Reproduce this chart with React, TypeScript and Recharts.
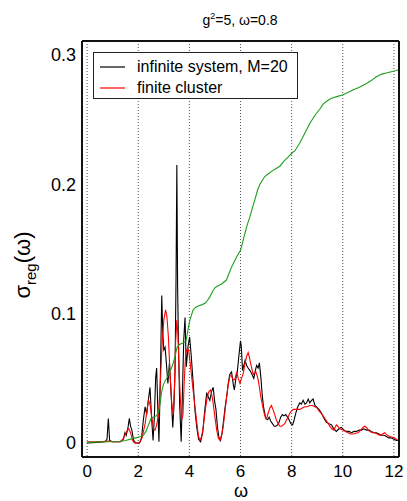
import React from 'react';
import { LineChart, Line, XAxis, YAxis, CartesianGrid, Legend, Label } from 'recharts';

// ---- data ----
const infiniteOmega = [
  0, 0.4, 0.7, 0.78, 0.83, 0.88, 1.0, 1.3, 1.42, 1.48, 1.53, 1.6, 1.65, 1.7, 1.75, 1.82, 1.9, 2.05, 2.13, 2.2,
  2.27, 2.33, 2.4, 2.46, 2.52, 2.58, 2.63, 2.68, 2.72, 2.76, 2.81, 2.86, 2.92, 2.96, 3.0, 3.05, 3.1, 3.16, 3.22, 3.28,
  3.35, 3.4, 3.44, 3.48, 3.51, 3.54, 3.57, 3.62, 3.68, 3.73, 3.78, 3.83, 3.88, 3.95, 4.01, 4.07, 4.14, 4.22, 4.29, 4.36,
  4.44, 4.52, 4.6, 4.68, 4.75, 4.8, 4.87, 4.93, 4.99, 5.04, 5.1, 5.16, 5.22, 5.28, 5.33, 5.4, 5.46, 5.52, 5.58, 5.65,
  5.72, 5.76, 5.82, 5.88, 5.94, 6.0, 6.03, 6.08, 6.13, 6.18, 6.24, 6.3, 6.37, 6.43, 6.52, 6.58, 6.63, 6.69, 6.74, 6.8,
  6.85, 6.9, 6.99, 7.06, 7.12, 7.18, 7.25, 7.32, 7.38, 7.45, 7.51, 7.57, 7.64, 7.7, 7.77, 7.84, 7.9, 7.97, 8.04, 8.1,
  8.16, 8.24, 8.32, 8.38, 8.45, 8.52, 8.58, 8.65, 8.71, 8.78, 8.84, 8.91, 8.97, 9.07, 9.17, 9.27, 9.36, 9.46, 9.56, 9.65,
  9.75, 9.85, 9.95, 10.04, 10.14, 10.24, 10.34, 10.44, 10.54, 10.64, 10.73, 10.83, 10.93, 11.03, 11.12, 11.22, 11.32, 11.42, 11.51, 11.61,
  11.71, 11.8, 11.9, 12.0, 12.1, 12.18,
];
const infiniteSigma = [
  0, 0.0005, 0.001, 0.003, 0.019, 0.002, 0.001, 0.001, 0.003, 0.008, 0.006, 0.012, 0.019, 0.013, 0.01, 0.002, 0.0, 0.0, 0.004, 0.018,
  0.028, 0.022, 0.034, 0.043, 0.02, 0.002, 0.02, 0.05, 0.058, 0.03, 0.001, 0.045, 0.114, 0.085, 0.072, 0.074, 0.062, 0.046, 0.062, 0.04,
  0.012, 0.03, 0.056, 0.13, 0.215, 0.12, 0.082, 0.03, 0.001, 0.04, 0.08, 0.097, 0.059, 0.075, 0.082, 0.068, 0.049, 0.025, 0.012, 0.003,
  0.001, 0.008, 0.025, 0.039, 0.035, 0.033, 0.04, 0.043, 0.032, 0.026, 0.012, 0.004, 0.002, 0.008, 0.016, 0.028, 0.036, 0.046, 0.053, 0.055,
  0.045, 0.041, 0.05, 0.056, 0.068, 0.079, 0.075, 0.056, 0.06, 0.064, 0.06, 0.058, 0.056, 0.054, 0.05, 0.056, 0.06, 0.058, 0.062, 0.05,
  0.037, 0.028, 0.019, 0.018, 0.02, 0.017, 0.015, 0.013, 0.013, 0.014, 0.016, 0.02, 0.022, 0.021, 0.022, 0.02, 0.018, 0.015, 0.014, 0.018,
  0.023, 0.028, 0.031, 0.03, 0.033, 0.03, 0.031, 0.034, 0.031, 0.033, 0.034, 0.029, 0.028, 0.026, 0.023, 0.019, 0.016, 0.015, 0.014, 0.011,
  0.009, 0.011, 0.012, 0.01, 0.009, 0.009, 0.008, 0.009, 0.009, 0.01, 0.01, 0.011, 0.01, 0.01, 0.009, 0.008, 0.008, 0.007, 0.006, 0.006,
  0.005, 0.004, 0.004, 0.003, 0.002, 0.002,
];

const finiteOmega = [
  0, 0.5, 0.8, 1.0, 1.3, 1.4, 1.5, 1.58, 1.63, 1.7, 1.78, 1.85, 2.05, 2.15, 2.27, 2.34, 2.4, 2.46, 2.53, 2.6,
  2.66, 2.72, 2.79, 2.86, 2.93, 3.0, 3.07, 3.12, 3.18, 3.24, 3.31, 3.37, 3.42, 3.46, 3.51, 3.55, 3.6, 3.65, 3.7, 3.75,
  3.8, 3.86, 3.92, 3.97, 4.03, 4.09, 4.15, 4.22, 4.29, 4.35, 4.41, 4.48, 4.54, 4.62, 4.7, 4.77, 4.83, 4.88, 4.93, 5.0,
  5.07, 5.13, 5.2, 5.26, 5.32, 5.39, 5.46, 5.52, 5.59, 5.65, 5.71, 5.78, 5.85, 5.91, 5.98, 6.04, 6.11, 6.18, 6.24, 6.3,
  6.35, 6.39, 6.45, 6.5, 6.55, 6.6, 6.65, 6.69, 6.74, 6.79, 6.84, 6.89, 6.94, 6.99, 7.04, 7.08, 7.15, 7.21, 7.27, 7.34,
  7.4, 7.47, 7.54, 7.61, 7.67, 7.73, 7.8, 7.86, 7.93, 8.0, 8.07, 8.13, 8.22, 8.32, 8.42, 8.52, 8.61, 8.71, 8.81, 8.91,
  9.0, 9.1, 9.2, 9.3, 9.4, 9.49, 9.57, 9.65, 9.7, 9.75, 9.81, 9.88, 10.01, 10.11, 10.21, 10.3, 10.4, 10.5, 10.6, 10.7,
  10.79, 10.86, 10.93, 11.0, 11.05, 11.15, 11.25, 11.35, 11.45, 11.55, 11.64, 11.74, 11.84, 11.94, 12.03, 12.1, 12.18,
];
const finiteSigma = [
  0.001, 0.001, 0.0015, 0.001, 0.001, 0.003, 0.007, 0.01, 0.011, 0.008, 0.002, 0.0, 0.0, 0.004, 0.015, 0.025, 0.033, 0.03, 0.02, 0.011,
  0.01, 0.014, 0.022, 0.045, 0.075, 0.095, 0.103, 0.098, 0.082, 0.055, 0.031, 0.022, 0.045, 0.077, 0.095, 0.085, 0.055, 0.033, 0.018, 0.022,
  0.048, 0.07, 0.073, 0.072, 0.062, 0.051, 0.04, 0.028, 0.016, 0.006, 0.002, 0.005, 0.012, 0.025, 0.036, 0.04, 0.041, 0.037, 0.031, 0.02,
  0.01, 0.004, 0.002, 0.006, 0.012, 0.024, 0.036, 0.045, 0.052, 0.052, 0.049, 0.049, 0.055, 0.05, 0.046, 0.05, 0.054, 0.062, 0.067, 0.07,
  0.066, 0.062, 0.057, 0.053, 0.054, 0.055, 0.052, 0.049, 0.043, 0.036, 0.031, 0.026, 0.022, 0.019, 0.02, 0.023, 0.027, 0.029, 0.026, 0.022,
  0.018, 0.015, 0.013, 0.013, 0.014, 0.015, 0.018, 0.02, 0.023, 0.025, 0.026, 0.026, 0.026, 0.026, 0.027, 0.028, 0.028, 0.029, 0.029, 0.028,
  0.027, 0.024, 0.022, 0.019, 0.016, 0.013, 0.011, 0.01, 0.012, 0.014, 0.013, 0.011, 0.01, 0.009, 0.008, 0.007, 0.007, 0.0075, 0.008, 0.01,
  0.012, 0.013, 0.012, 0.01, 0.009, 0.008, 0.008, 0.007, 0.006, 0.007, 0.008, 0.006, 0.005, 0.0045, 0.004, 0.003, 0.002,
];

const integratedOmega = [
  0, 0.8, 1.3, 1.5, 1.7, 1.9, 2.1, 2.2, 2.3, 2.4, 2.5, 2.6, 2.7, 2.78, 2.85, 2.92, 2.98, 3.05, 3.12, 3.2,
  3.3, 3.37, 3.45, 3.52, 3.6, 3.7, 3.8, 3.87, 3.95, 4.02, 4.1, 4.15, 4.25, 4.35, 4.5, 4.61, 4.7, 4.8, 4.9, 5.0,
  5.07, 5.26, 5.45, 5.55, 5.65, 5.75, 5.85, 6.0, 6.08, 6.17, 6.27, 6.37, 6.47, 6.56, 6.66, 6.76, 6.85, 6.95, 7.08, 7.21,
  7.38, 7.54, 7.7, 7.86, 8.0, 8.13, 8.32, 8.5, 8.71, 8.9, 9.1, 9.23, 9.36, 9.5, 9.62, 9.8, 9.98, 10.2, 10.4, 10.65,
  10.93, 11.1, 11.3, 11.5, 11.7, 11.9, 12.1, 12.18,
];
const integratedSigma = [
  0.0005, 0.001, 0.0012, 0.002, 0.003, 0.004, 0.005, 0.006, 0.009, 0.014, 0.019, 0.02, 0.021, 0.023, 0.03, 0.04, 0.045, 0.048, 0.05, 0.054,
  0.058, 0.062, 0.068, 0.074, 0.076, 0.077, 0.078, 0.079, 0.088, 0.095, 0.1, 0.103, 0.105, 0.106, 0.107, 0.108, 0.11, 0.113, 0.117, 0.12,
  0.121, 0.123, 0.126, 0.131, 0.136, 0.14, 0.144, 0.149, 0.155, 0.162, 0.169, 0.175, 0.182, 0.188, 0.195, 0.2, 0.203, 0.206, 0.208, 0.21,
  0.212, 0.214, 0.218, 0.221, 0.224, 0.226, 0.232, 0.239, 0.247, 0.253, 0.258, 0.262, 0.264, 0.266, 0.267, 0.268, 0.269, 0.271, 0.273, 0.275,
  0.278, 0.28, 0.283, 0.285, 0.286, 0.287, 0.288, 0.2885,
];

const xMajorTicks = [0, 2, 4, 6, 8, 10, 12];
const xMinorTicks = [1, 3, 5, 7, 9, 11];
const yMajorTicks = [0, 0.1, 0.2, 0.3];
const yMinorTicks = [0.05, 0.15, 0.25];

const seriesNames = ['infinite system, M=20', 'finite cluster'];
const seriesColors = ['#000000', '#ff0000', '#1e9e1e'];

const toPoints = (w: number[], s: number[]) => w.map((x, i) => ({ w: x, s: s[i] }));
const infiniteData = toPoints(infiniteOmega, infiniteSigma);
const finiteData = toPoints(finiteOmega, finiteSigma);
const integratedData = toPoints(integratedOmega, integratedSigma);

const FONT = '"Liberation Sans", Arial, Helvetica, sans-serif';
const X_DOMAIN: [number, number] = [-0.2, 12.2];
const Y_DOMAIN: [number, number] = [-0.0108, 0.3108];
const FRAME = '#111';

const TitleText = () => (
  <text x={240} y={25} textAnchor="middle" fontFamily={FONT} fontSize={14} fill="#000">
    g<tspan dy={-6} fontSize={9}>2</tspan>
    <tspan dy={6}>=5, ω=0.8</tspan>
  </text>
);

const XLabelText = () => (
  <text x={241} y={496.5} textAnchor="middle" fontFamily={FONT} fontSize={18} fill="#000">
    ω
  </text>
);

const YLabelText = () => (
  <text transform="translate(30,265) rotate(-90)" textAnchor="middle" fontFamily={FONT} fontSize={22} fill="#000">
    σ<tspan fontSize={15} dy={6}>reg</tspan>
    <tspan dy={-6}>(ω)</tspan>
  </text>
);

const LegendBox = () => (
  <div
    style={{
      width: 205,
      height: 47,
      boxSizing: 'border-box',
      border: '1.5px solid #222',
      background: '#fff',
      position: 'relative',
      fontFamily: FONT,
      fontSize: 16,
      color: '#000',
    }}
  >
    {seriesNames.map((name, i) => (
      <div key={name} style={{ position: 'absolute', left: 0, top: 4 + i * 21, height: 20, width: 200 }}>
        <svg width={40} height={20} style={{ position: 'absolute', left: 0, top: 0 }}>
          <line x1={6} x2={31} y1={10} y2={10} stroke={seriesColors[i]} strokeWidth={1.2} />
        </svg>
        <span style={{ position: 'absolute', left: 43, top: 0, lineHeight: '20px', whiteSpace: 'nowrap' }}>{name}</span>
      </div>
    ))}
  </div>
);

export default function App() {
  return (
    <div style={{ position: 'absolute', left: 0, top: 0, width: 407, height: 501, background: '#fff' }}>
      <LineChart width={407} height={501} margin={{ top: 41, right: 8, bottom: 14, left: 52 }}>
        <CartesianGrid
          xAxisId="x"
          yAxisId="y"
          horizontal={false}
          vertical
          stroke="#555"
          strokeDasharray="1 2"
        />
        <XAxis
          xAxisId="x"
          dataKey="w"
          type="number"
          domain={X_DOMAIN}
          allowDataOverflow
          ticks={xMajorTicks}
          interval={0}
          height={30}
          tickLine={false}
          tickSize={4}
          tickMargin={3.7}
          axisLine={{ stroke: FRAME, strokeWidth: 2 }}
          tick={{ fill: '#000', fontSize: 17, fontFamily: FONT }}
        >
          <Label content={() => <XLabelText />} />
        </XAxis>
        <XAxis
          xAxisId="xb"
          type="number"
          orientation="bottom"
          mirror
          domain={X_DOMAIN}
          allowDataOverflow
          ticks={xMinorTicks}
          interval={0}
          height={20}
          tick={false}
          tickSize={5}
          axisLine={false}
          tickLine={{ stroke: FRAME, strokeWidth: 1.5 }}
        />
        <XAxis
          xAxisId="xt"
          type="number"
          orientation="top"
          mirror
          domain={X_DOMAIN}
          allowDataOverflow
          ticks={xMinorTicks}
          interval={0}
          height={20}
          tick={false}
          tickSize={5}
          axisLine={{ stroke: FRAME, strokeWidth: 2 }}
          tickLine={{ stroke: FRAME, strokeWidth: 1.5 }}
        >
          <Label content={() => <TitleText />} />
        </XAxis>
        <YAxis
          yAxisId="y"
          type="number"
          domain={Y_DOMAIN}
          allowDataOverflow
          ticks={yMajorTicks}
          interval={0}
          width={30}
          tickLine={false}
          tickSize={0}
          tickMargin={6}
          axisLine={{ stroke: FRAME, strokeWidth: 2 }}
          tick={{ fill: '#000', fontSize: 18, fontFamily: FONT }}
          tickFormatter={(v: number) => String(v)}
        >
          <Label content={() => <YLabelText />} />
        </YAxis>
        <YAxis
          yAxisId="ylMaj"
          type="number"
          mirror
          domain={Y_DOMAIN}
          allowDataOverflow
          ticks={yMajorTicks}
          interval={0}
          width={20}
          tick={false}
          tickSize={11}
          axisLine={false}
          tickLine={{ stroke: FRAME, strokeWidth: 1.5 }}
        />
        <YAxis
          yAxisId="ylMin"
          type="number"
          mirror
          domain={Y_DOMAIN}
          allowDataOverflow
          ticks={yMinorTicks}
          interval={0}
          width={20}
          tick={false}
          tickSize={6}
          axisLine={false}
          tickLine={{ stroke: FRAME, strokeWidth: 1.5 }}
        />
        <YAxis
          yAxisId="yrMaj"
          type="number"
          orientation="right"
          mirror
          domain={Y_DOMAIN}
          allowDataOverflow
          ticks={yMajorTicks}
          interval={0}
          width={20}
          tick={false}
          tickSize={10}
          axisLine={{ stroke: FRAME, strokeWidth: 2 }}
          tickLine={{ stroke: FRAME, strokeWidth: 1.5 }}
        />
        <YAxis
          yAxisId="yrMin"
          type="number"
          orientation="right"
          mirror
          domain={Y_DOMAIN}
          allowDataOverflow
          ticks={yMinorTicks}
          interval={0}
          width={20}
          tick={false}
          tickSize={5}
          axisLine={false}
          tickLine={{ stroke: FRAME, strokeWidth: 1.5 }}
        />
        <Legend
          layout="vertical"
          align="center"
          verticalAlign="middle"
          wrapperStyle={{ left: 93, top: 52, width: 205, height: 47 }}
          content={() => <LegendBox />}
        />
        <Line
          xAxisId="x"
          yAxisId="y"
          data={infiniteData}
          dataKey="s"
          name={seriesNames[0]}
          type="linear"
          stroke={seriesColors[0]}
          strokeWidth={1.1}
          dot={false}
          isAnimationActive={false}
        />
        <Line
          xAxisId="x"
          yAxisId="y"
          data={finiteData}
          dataKey="s"
          name={seriesNames[1]}
          type="linear"
          stroke={seriesColors[1]}
          strokeWidth={1.1}
          dot={false}
          isAnimationActive={false}
        />
        <Line
          xAxisId="x"
          yAxisId="y"
          data={integratedData}
          dataKey="s"
          name="integrated"
          type="linear"
          stroke={seriesColors[2]}
          strokeWidth={1.1}
          dot={false}
          isAnimationActive={false}
          legendType="none"
        />
      </LineChart>
    </div>
  );
}
